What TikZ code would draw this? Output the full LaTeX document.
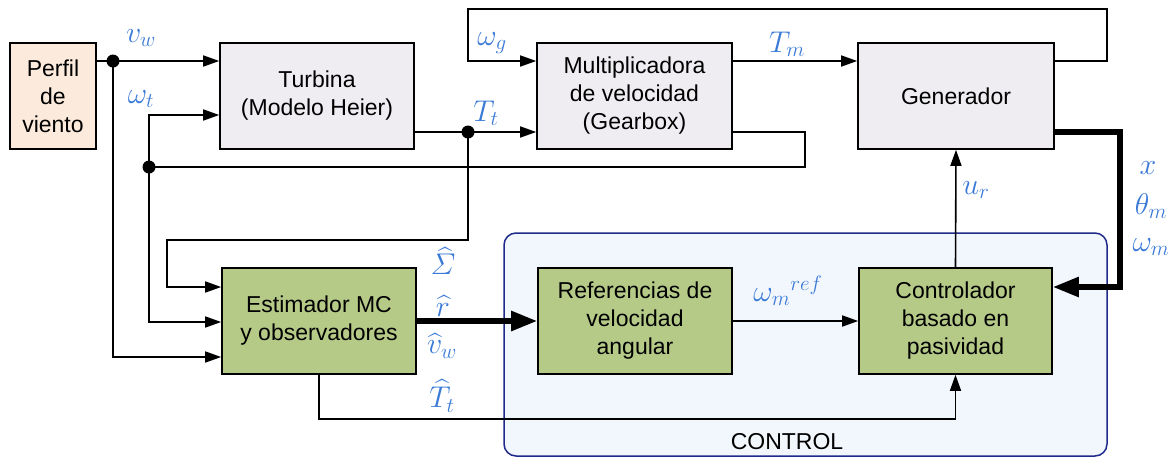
\RequirePackage{fix-cm}
\documentclass[tikz,border=0pt]{standalone}
\usepackage{amsmath}
\usepackage{fontspec}
\setmainfont{Liberation Sans}
\usetikzlibrary{arrows.meta,calc}
\definecolor{peach}{HTML}{FCEBDC}
\definecolor{lav}{HTML}{EFEDF2}
\definecolor{grn}{HTML}{B6CA88}
\definecolor{ctrlfill}{HTML}{F2F7FE}
\definecolor{ctrlline}{HTML}{1F2A8A}
\definecolor{lblue}{HTML}{3A7AD6}
\tikzset{
  blk/.style={draw=black, line width=1.6pt, align=center, inner sep=2pt,
    font=\fontsize{23}{28}\selectfont},
  wire/.style={line width=1.6pt},
  arr/.style={wire, -{Triangle[length=16pt,width=11pt]}},
  thk/.style={line width=5.5pt},
  thkarr/.style={thk, -{Triangle[length=26pt,width=19pt]}},
  lbl/.style={text=lblue, font=\fontsize{30}{32}\selectfont, inner sep=0pt},
  dot/.style={circle, fill=black, minimum size=13pt, inner sep=0pt},
}
\begin{document}
\begin{tikzpicture}[x=1pt,y=-1pt]
\useasboundingbox (0,0) rectangle (1170,459);
% control region
\node[draw=ctrlline, fill=ctrlfill, line width=1.5pt, rounded corners=12pt,
  minimum width=603pt, minimum height=223pt, inner sep=0pt] (ctrlreg) at (805.5,344.5) {};
\node[font=\fontsize{23}{28}\selectfont] (ctrltxt) at (787,442) {CONTROL};
% blocks
\node[blk, fill=peach, minimum width=86pt, minimum height=106pt] (perfil) at (53,96) {Perfil\\de\\viento};
\node[blk, fill=lav, minimum width=194pt, minimum height=106pt] (turb) at (317,96) {Turbina\\(Modelo Heier)};
\node[blk, fill=lav, minimum width=195pt, minimum height=106pt] (mult) at (634.5,96) {Multiplicadora\\de velocidad\\(Gearbox)};
\node[blk, fill=lav, minimum width=196pt, minimum height=106pt] (gen) at (956,96) {Generador};
\node[blk, fill=grn, minimum width=194pt, minimum height=106pt] (est) at (319,321) {Estimador MC\\y observadores};
\node[blk, fill=grn, minimum width=194pt, minimum height=106pt] (ref) at (635,321) {Referencias de\\velocidad\\angular};
\node[blk, fill=grn, minimum width=193pt, minimum height=106pt] (ctrl) at (955.5,321) {Controlador\\basado en\\pasividad};
% junctions and levels
\coordinate (j1) at (113,61);
\coordinate (j2) at (149,167);
\coordinate (j3) at (468,132);
\coordinate (e1) at (0,287);
\coordinate (e2) at (0,322);
\coordinate (e3) at (0,357);
\coordinate (t1) at (0,115);
\coordinate (b1) at (0,419);
% wires
\draw[wire] (perfil.east |- j1) -- (j1);
\draw[arr] (j1) -- (turb.west |- j1);
\draw[arr] (j1) |- (est.west |- e3);
\draw[arr] (j2) |- (turb.west |- t1);
\draw[arr] (j2) |- (est.west |- e2);
\draw[wire] (j2) -- (805,167) -- (805,132) -- (mult.east |- j3);
\draw[wire] (turb.east |- j3) -- (j3);
\draw[arr] (j3) -- (mult.west |- j3);
\draw[arr] (j3) -- (468,240) -- (167,240) |- (est.west |- e1);
\draw[arr] (mult.east |- j1) -- (gen.west |- j1);
\draw[arr] (gen.east |- j1) -- (1107,61) -- (1107,9) -- (468,9) -- (468,61) -- (mult.west |- j1);
\draw[thkarr] (gen.east |- j3) -- (1120,132) -- (1120,287) -- (ctrl.east |- e1);
\draw[arr] (ctrl.north) -- (gen.south);
\draw[thkarr] (est.east) -- (ref.west);
\draw[arr] (ref.east) -- (ctrl.west);
\draw[arr] (est.south) -- (est.south |- b1) -- (ctrl.south |- b1) -- (ctrl.south);
\node[dot] (d1) at (j1) {};
\node[dot] (d2) at (j2) {};
\node[dot] (d3) at (j3) {};
% labels
\node[lbl] (lvw) at (141,38) {$v_w$};
\node[lbl] (lwt) at (141,99) {$\omega_t$};
\node[lbl] (ltt) at (486,113) {$T_t$};
\node[lbl] (lwg) at (492,43) {$\omega_g$};
\node[lbl] (ltm) at (787,44) {$T_m$};
\node[lbl] (lur) at (976,190) {$u_r$};
\node[lbl] (lx) at (1148,168) {$x$};
\node[lbl] (lth) at (1151,206) {$\theta_m$};
\node[lbl] (lwm) at (1151,247) {$\omega_m$};
\node[lbl] (lwr) at (788,291) {$\omega_m{}^{ref}$};
\node[lbl] (lsig) at (443,261) {$\widehat{\varSigma}$};
\node[lbl] (lr) at (443,306) {$\widehat{r}$};
\node[lbl] (lvh) at (442,346) {$\widehat{v}_w$};
\node[lbl] (lth2) at (442,396) {$\widehat{T}_t$};
\end{tikzpicture}
\end{document}
